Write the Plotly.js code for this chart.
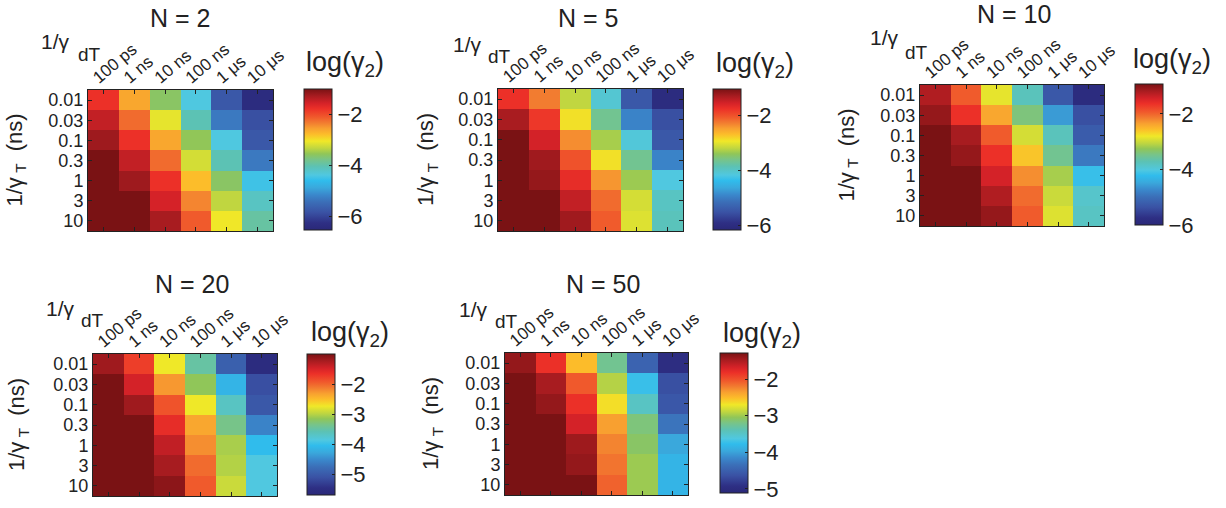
<!DOCTYPE html>
<html><head><meta charset="utf-8">
<script src="https://cdn.plot.ly/plotly-3.0.1.min.js"></script>
<style>body{margin:0;background:#fff}#chart{width:1226px;height:508px}</style>
</head><body><div id="chart"></div>
<script>
// ---------- data ----------
const dTLabels = ['100 ps', '1 ns', '10 ns', '100 ns', '1 μs', '10 μs'];
const TLabels = ['0.01', '0.03', '0.1', '0.3', '1', '3', '10'];
const panelTitles = ['N = 2', 'N = 5', 'N = 10', 'N = 20', 'N = 50'];

// log(gamma2), rows = 1/gamma_T (0.01 ... 10 ns), cols = 1/gamma_dT
const zN2 = [
  [-1.78, -2.61, -3.61, -4.39, -5.77, -6.38],
  [-1.44, -2.22, -3.11, -4.05, -5.33, -5.88],
  [-1.22, -1.78, -2.61, -3.55, -4.39, -5.77],
  [-1.00, -1.44, -2.22, -3.22, -4.05, -5.33],
  [-1.00, -1.22, -1.78, -2.78, -3.61, -4.50],
  [-1.00, -1.00, -1.56, -2.39, -3.33, -4.16],
  [-1.00, -1.00, -1.28, -2.11, -3.05, -3.94]
];
const zN5 = [
  [-1.77, -2.28, -3.20, -4.08, -5.46, -6.03],
  [-1.31, -1.82, -2.90, -3.67, -4.95, -5.56],
  [-1.05, -1.56, -2.38, -3.31, -4.13, -5.46],
  [-1.05, -1.26, -2.02, -2.90, -3.67, -4.95],
  [-1.05, -1.20, -1.72, -2.43, -3.36, -4.18],
  [-1.05, -1.05, -1.46, -2.18, -3.10, -3.97],
  [-1.05, -1.05, -1.26, -2.08, -3.05, -3.92]
];
const zN10 = [
  [-1.22, -1.94, -2.85, -3.76, -5.29, -5.85],
  [-1.07, -1.63, -2.39, -3.41, -4.58, -5.39],
  [-0.92, -1.17, -1.94, -2.95, -3.76, -5.24],
  [-0.92, -1.07, -1.63, -2.60, -3.51, -4.88],
  [-0.92, -0.92, -1.43, -2.24, -3.16, -4.17],
  [-0.92, -0.92, -1.22, -2.04, -3.00, -3.87],
  [-0.92, -0.92, -1.07, -1.94, -2.90, -3.82]
];
const zN20 = [
  [-1.19, -1.75, -2.74, -3.49, -4.94, -5.55],
  [-1.00, -1.47, -2.27, -3.16, -4.14, -5.13],
  [-1.00, -1.19, -1.89, -2.74, -3.67, -5.03],
  [-1.00, -1.00, -1.61, -2.36, -3.35, -4.56],
  [-1.00, -1.00, -1.37, -2.22, -3.06, -4.05],
  [-1.00, -1.00, -1.23, -2.03, -3.02, -3.86],
  [-1.00, -1.00, -1.09, -1.94, -2.92, -3.86]
];
const zN50 = [
  [-1.40, -1.82, -2.51, -3.24, -4.46, -4.96],
  [-1.29, -1.48, -2.05, -2.93, -3.73, -4.65],
  [-1.29, -1.40, -1.82, -2.66, -3.47, -4.58],
  [-1.29, -1.29, -1.67, -2.36, -3.16, -4.31],
  [-1.29, -1.29, -1.44, -2.24, -3.09, -3.96],
  [-1.29, -1.29, -1.40, -2.17, -3.01, -3.85],
  [-1.29, -1.29, -1.29, -2.09, -3.01, -3.85]
];
const zAll = [zN2, zN5, zN10, zN20, zN50];

// colour limits and colourbar ticks of each panel
const climN2 = [-6.55, -1.0];
const climN5 = [-6.18, -1.05];
const climN10 = [-6.0, -0.92];
const climN20 = [-5.69, -1.0];
const climN50 = [-5.11, -1.29];
const climAll = [climN2, climN5, climN10, climN20, climN50];
const cbTicksA = [-6, -4, -2];
const cbTicksB = [-5, -4, -3, -2];
const cbTicksAll = [cbTicksA, cbTicksA, cbTicksA, cbTicksB, cbTicksB];

// ---------- styling / geometry ----------
const W = 1226, H = 508;
const FONT = 'Liberation Sans, Arial, sans-serif';
const INK = '#222';
const jetMuted = [
  [0.00, '#2a2878'], [0.05, '#2e2f84'], [0.125, '#3a52a4'], [0.20, '#3b6fb8'],
  [0.25, '#3a88cc'], [0.30, '#3aa8dc'], [0.35, '#30bcec'], [0.39, '#50c8e0'],
  [0.45, '#5cc2b4'], [0.50, '#78c488'], [0.54, '#90c658'], [0.58, '#c0d640'],
  [0.63, '#f0e828'], [0.68, '#fcbc2a'], [0.72, '#f8a030'], [0.76, '#f27c30'],
  [0.80, '#f05a2c'], [0.86, '#ec3028'], [0.90, '#d42228'], [0.95, '#a81c20'],
  [1.00, '#7a1214']
];
const geo = [
  {p:[88,273,90,231],  cb:[304,89,141],  t:[180,18],  ct:[345,64],  g:[55,42], d:[89,54],  yt:15},
  {p:[498,683,89,231], cb:[713,89,141],  t:[588,18],  ct:[755,65],  g:[468,45], d:[499,56], yt:427},
  {p:[920,1104,85,226],cb:[1135,84,141], t:[1014,14], ct:[1172,61], g:[884,38], d:[916,52], yt:847},
  {p:[93,277,354,496], cb:[307,354,141], t:[192,284], ct:[350,334], g:[60,308], d:[92,320], yt:18},
  {p:[505,688,353,495],cb:[720,353,140], t:[603,284], ct:[762,335], g:[473,309], d:[506,321], yt:432}
];
const fx = px => px / W;
const fy = py => 1 - py / H;

const xIdx = dTLabels.map((_, i) => i);
const yIdx = TLabels.map((_, i) => i);

const data = [];
const layout = {
  width: W, height: H,
  margin: {l: 0, r: 0, t: 0, b: 0},
  paper_bgcolor: '#fff', plot_bgcolor: '#fff',
  font: {family: FONT, color: INK, size: 16},
  showlegend: false,
  annotations: []
};

zAll.forEach((z, k) => {
  const n = k + 1;
  const g = geo[k];
  data.push({
    type: 'heatmap', x: xIdx, y: yIdx, z: z,
    xaxis: 'x' + n, yaxis: 'y' + n,
    colorscale: jetMuted, zmin: climAll[k][0], zmax: climAll[k][1],
    hoverinfo: 'skip',
    colorbar: {
      x: fx(g.cb[0]), xanchor: 'left', xref: 'paper',
      y: fy(g.cb[1]), yanchor: 'top', yref: 'paper',
      len: g.cb[2], lenmode: 'pixels',
      thickness: 28, thicknessmode: 'pixels',
      xpad: 0, ypad: 0,
      outlinewidth: 1, outlinecolor: INK,
      tickvals: cbTicksAll[k], ticks: 'inside', ticklen: 3, tickcolor: INK,
      tickfont: {size: 22, family: FONT, color: INK}
    }
  });
  layout['xaxis' + n] = {
    domain: [fx(g.p[0]), fx(g.p[1])], anchor: 'y' + n, side: 'top',
    range: [-0.5, 5.5], tickvals: xIdx, ticktext: dTLabels, tickangle: -40,
    ticklabelshift: -10, ticklabelstandoff: -4,
    ticks: 'inside', ticklen: 4, tickcolor: INK, mirror: 'ticks',
    showline: true, linecolor: INK, linewidth: 1,
    showgrid: false, zeroline: false, fixedrange: true,
    tickfont: {size: 17, family: FONT, color: INK}
  };
  layout['yaxis' + n] = {
    domain: [fy(g.p[3]), fy(g.p[2])], anchor: 'x' + n,
    range: [6.5, -0.5], tickvals: yIdx, ticktext: TLabels,
    ticks: 'inside', ticklen: 4, tickcolor: INK, mirror: 'ticks',
    showline: true, linecolor: INK, linewidth: 1,
    showgrid: false, zeroline: false, fixedrange: true,
    tickfont: {size: 18, family: FONT, color: INK}
  };
  const A = layout.annotations;
  A.push({text: panelTitles[k], x: fx(g.t[0]), y: fy(g.t[1]), xref: 'paper', yref: 'paper',
    xanchor: 'center', yanchor: 'middle', showarrow: false, font: {size: 25, family: FONT, color: INK}});
  A.push({text: 'log(γ<sub>2</sub>)', x: fx(g.ct[0]), y: fy(g.ct[1]), xref: 'paper', yref: 'paper',
    xanchor: 'center', yanchor: 'middle', showarrow: false, font: {size: 27, family: FONT, color: INK}});
  A.push({text: '1/γ', x: fx(g.g[0]), y: fy(g.g[1]), xref: 'paper', yref: 'paper',
    xanchor: 'center', yanchor: 'middle', showarrow: false, font: {size: 21, family: FONT, color: INK}});
  A.push({text: 'dT', x: fx(g.d[0]), y: fy(g.d[1]), xref: 'paper', yref: 'paper',
    xanchor: 'center', yanchor: 'middle', showarrow: false, font: {size: 19, family: FONT, color: INK}});
  A.push({text: '1/γ<sub> T</sub>  (ns)', x: fx(g.yt), y: fy((g.p[2] + g.p[3]) / 2),
    xref: 'paper', yref: 'paper', xanchor: 'center', yanchor: 'middle', textangle: -90,
    showarrow: false, font: {size: 22, family: FONT, color: INK}});
});

Plotly.newPlot('chart', data, layout, {staticPlot: true, displayModeBar: false});
</script>
</body></html>
